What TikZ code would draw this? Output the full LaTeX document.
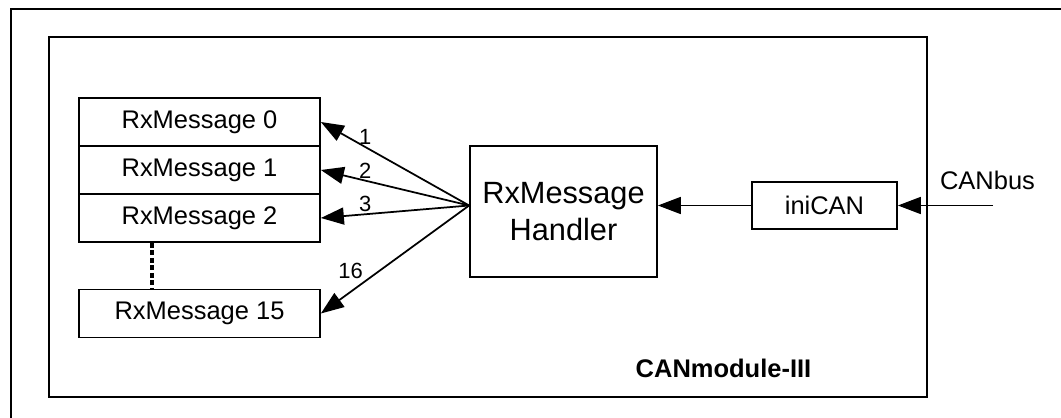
\documentclass[tikz,border=0pt]{standalone}
\usepackage{fontspec}
\setmainfont{Liberation Sans}
\usetikzlibrary{arrows.meta,positioning}

\begin{document}
\begin{tikzpicture}[x=0.2mm, y=-0.2mm,
    every node/.style={font=\fontsize{14.5}{17}\selectfont},
    msgbox/.style={draw, line width=0.35mm, minimum width=48.2mm, minimum height=9.6mm, inner sep=0pt},
    arr/.style={line width=0.35mm, -{Triangle[length=4.6mm, width=3.4mm]}},
    lbl/.style={font=\fontsize{12.5}{14}\selectfont, inner sep=1pt}]
        \useasboundingbox (0,0) rectangle (1061,418);
        % Frame and module
        \draw[line width=0.45mm] (11,9) rectangle (1080,430);
        \node[draw, line width=0.35mm, minimum width=175.6mm, minimum height=72mm] (module) at (488,217) {};
        \node[font=\fontsize{14.5}{17}\selectfont\bfseries] (modname) at (723.5,368) {CANmodule-III};
        % Message boxes
        \node[msgbox] (rx0) at (199.5,122) {RxMessage 0};
        \node[msgbox] (rx1) at (199.5,170) {RxMessage 1};
        \node[msgbox] (rx2) at (199.5,218) {RxMessage 2};
        \node[msgbox] (rx15) at (199.5,313.5) {RxMessage 15};
        \draw[line width=0.7mm, dash pattern=on 1mm off 0.5mm] ([xshift=-9.5mm]rx2.south) -- ([xshift=-9.5mm]rx15.north);
        % Handler and input
        \node[draw, line width=0.35mm, minimum width=37.4mm, minimum height=26.2mm, align=center,
              font=\fontsize{17.5}{21}\selectfont] (handler) at (563.5,211.5) {RxMessage\\Handler};
        \node[draw, line width=0.35mm, minimum width=29mm, minimum height=9.4mm] (inican) at (824.5,205.5) {iniCAN};
        \coordinate (busend) at (993,205.5);
        \node (canbus) at (987.5,180) {CANbus};
        \coordinate (fan) at (handler.west |- inican.west);
        % Arrows
        \draw[arr] (busend) -- (inican.east);
        \draw[arr] (inican.west) -- (inican.west -| handler.east);
        \draw[arr] (fan) -- node[lbl, pos=0.7, above] {1} (rx0.east);
        \draw[arr] (fan) -- node[lbl, pos=0.7, above] {2} (rx1.east);
        \draw[arr] (fan) -- node[lbl, pos=0.7, above] {3} (rx2.east);
        \draw[arr] (fan) -- node[lbl, pos=0.7, above left] {16} (rx15.east);
\end{tikzpicture}
\end{document}
